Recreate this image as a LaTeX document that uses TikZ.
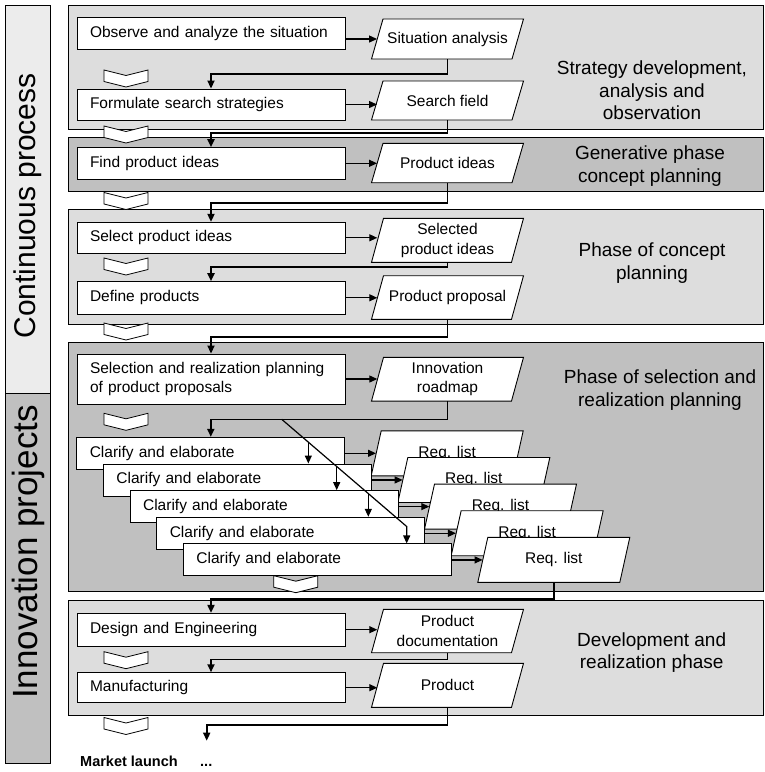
\documentclass[tikz,border=0pt]{standalone}
\usepackage{fontspec}
\setmainfont{Liberation Sans}
\usetikzlibrary{arrows.meta,calc}

\definecolor{panellight}{gray}{0.866}
\definecolor{paneldark}{gray}{0.753}
\definecolor{barlight}{gray}{0.925}

% document symbol: slanted frame plus a named text node
% #1 name, #2 x, #3 y, #4 height, #5 slant, #6 text
\newcommand\docnode[6]{%
  \path[docshape] ({#2-76+#5},{#3-(#4)/2}) -- ({#2+76},{#3-(#4)/2})
    -- ({#2+76-#5},{#3+(#4)/2}) -- ({#2-76},{#3+(#4)/2}) -- cycle;
  \node[doctext, minimum width={152pt-#5pt}, minimum height=#4pt] (#1) at (#2,#3) {#6};}

\begin{document}
\begin{tikzpicture}[x=1pt,y=-1pt,
  panel/.style={draw=black, line width=0.9pt},
  stepbox/.style={rectangle, draw=black, fill=white, line width=0.9pt,
    text width=242pt, inner xsep=13pt, inner ysep=0pt, align=left,
    font=\fontsize{15.5}{18.5}\selectfont},
  docshape/.style={draw=black, fill=white, line width=0.9pt},
  doctext/.style={rectangle, inner sep=0pt, align=center,
    font=\fontsize{15.5}{19.5}\selectfont},
  phase/.style={align=center, inner sep=0pt, font=\fontsize{19}{22.5}\selectfont},
  sidebar/.style={draw=black, line width=0.9pt},
  sidetext/.style={rotate=90, inner sep=0pt},
  tip/.style={-{Triangle[length=8pt,width=7pt]}},
  conn/.style={tip, line width=1.8pt},
  arr/.style={tip, line width=1.2pt},
  chevshape/.style={draw=black, fill=white, line width=0.8pt},
  chev/.pic={\path[chevshape] (-22,0) -- (0,5.5) -- (22,0) -- (22,11.5)
    -- (0,17) -- (-22,11.5) -- cycle;}
]
\useasboundingbox (0,0) rectangle (765,772);

% phase panels
\path[panel, fill=panellight] (68.3,5)     rectangle (763,129.3);
\path[panel, fill=paneldark]  (68.3,137.7) rectangle (763,191.7);
\path[panel, fill=panellight] (68.3,209.3) rectangle (763,324.7);
\path[panel, fill=paneldark]  (68.3,342.7) rectangle (763,591);
\path[panel, fill=panellight] (68.3,600)   rectangle (763,715);

% side bars
\path[sidebar, fill=barlight] (5,5) rectangle (50.5,393);
\path[sidebar, fill=paneldark] (5,393) rectangle (50.5,763);
\node[sidetext, font=\fontsize{30}{32}\selectfont] (cont) at (28,206) {Continuous process};
\node[sidetext, font=\fontsize{35}{37}\selectfont] (inno) at (28,552) {Innovation projects};

% phase labels
\node[phase] (l1) at (652,90.7)  {Strategy development,\\analysis and\\observation};
\node[phase] (l2) at (650,166)   {Generative phase\\concept planning};
\node[phase] (l3) at (652,263.3) {Phase of concept\\planning};
\node[phase] (l4) at (660,390)   {Phase of selection and\\realization planning};
\node[phase] (l5) at (651.7,652.5) {Development and\\realization phase};

% sequence chevrons
\pic at (126,70) {chev};
\pic at (126,126) {chev};
\pic at (126,192.5) {chev};
\pic at (126,258) {chev};
\pic at (126,323) {chev};
\pic at (126,413.3) {chev};
\pic at (295.8,575.7) {chev};
\pic at (126,651.7) {chev};
\pic at (126,717.5) {chev};

% strategy development
\node[stepbox, minimum height=32pt] (obs) at (211,33) {Observe and analyze the situation};
\docnode{sa}{447.5}{39}{40}{11.5}{Situation analysis}
\draw[arr] (obs.east |- sa.center) -- (sa.west);

\node[stepbox, minimum height=31pt] (form) at (211,104.5) {Formulate search strategies};
\docnode{sf}{447.5}{100.5}{39}{11.5}{Search field}
\draw[arr] (form.east) -- (form.east -| sf.west);
\draw[conn] (sa.south) -- ++(0,15) -| (form.north);

% generative phase
\node[stepbox, minimum height=31.3pt] (find) at (211,163.3) {Find product ideas};
\docnode{pi}{447.5}{163}{39.4}{11.5}{Product ideas}
\draw[arr] (find.east) -- (find.east -| pi.west);
\draw[conn] (sf.south) -- ++(0,13) -| (find.north);

% concept planning
\node[stepbox, minimum height=31pt] (sel) at (211,237.8) {Select product ideas};
\docnode{spi}{447.5}{240.3}{44}{12}{Selected\\product ideas}
\draw[arr] (sel.east) -- (sel.east -| spi.west);
\draw[conn] (pi.south) -- ++(0,19.8) -| (sel.north);

\node[stepbox, minimum height=32.3pt] (def) at (211,297.8) {Define products};
\docnode{pp}{447.5}{297.5}{43.6}{12}{Product proposal}
\draw[arr] (def.east) -- (def.east -| pp.west);
\draw[conn] (spi.south) -- ++(0,4.7) -| (def.north);

% selection and realization planning
\node[stepbox, minimum height=50pt] (selre) at (211,379) {Selection and realization planning\\of product proposals};
\docnode{ir}{447.5}{379.2}{43.7}{12}{Innovation\\roadmap}
\draw[arr] (selre.east) -- (selre.east -| ir.west);
\draw[conn] (pp.south) -- ++(0,17.5) -| (selre.north);

% stacked innovation projects
\node[stepbox, minimum height=32pt] (c1) at (210.8,453.3) {Clarify and elaborate};
\docnode{r1}{447.2}{453.3}{45}{10}{Req. list}
\draw[arr] (c1.east) -- (c1.east -| r1.west);
\node[stepbox, minimum height=32pt] (c2) at (237.45,479.95) {Clarify and elaborate};
\docnode{r2}{473.85}{479.95}{45}{10}{Req. list}
\draw[arr] (c2.east) -- (c2.east -| r2.west);
\node[stepbox, minimum height=32pt] (c3) at (264.1,506.6) {Clarify and elaborate};
\docnode{r3}{500.5}{506.6}{45}{10}{Req. list}
\draw[arr] (c3.east) -- (c3.east -| r3.west);
\node[stepbox, minimum height=32pt] (c4) at (290.75,533.25) {Clarify and elaborate};
\docnode{r4}{527.15}{533.25}{45}{10}{Req. list}
\draw[arr] (c4.east) -- (c4.east -| r4.west);
\node[stepbox, minimum height=32pt] (c5) at (317.4,559.9) {Clarify and elaborate};
\docnode{r5}{553.8}{559.9}{45}{10}{Req. list}
\draw[arr] (c5.east) -- (c5.east -| r5.west);

\draw[conn] (ir.south) -- ++(0,18.3) -| (c1.north);
\coordinate (dsplit) at (281.7,419.3);
\coordinate (dend) at (406.7,526.5);
\coordinate (b1) at ($(dsplit)!0.213!(dend)$);
\coordinate (b2) at ($(dsplit)!0.44!(dend)$);
\coordinate (b3) at ($(dsplit)!0.693!(dend)$);
\draw[arr] (dsplit) -- (dend) -- (dend |- c5.north);
\draw[arr] (b1) -- (b1 |- c2.north);
\draw[arr] (b2) -- (b2 |- c3.north);
\draw[arr] (b3) -- (b3 |- c4.north);

% development and realization
\node[stepbox, minimum height=32.7pt] (design) at (211,629.7) {Design and Engineering};
\docnode{pd}{447.5}{631}{43.4}{12}{Product\\documentation}
\draw[arr] (design.east) -- (design.east -| pd.west);
\draw[conn] (r5.south) -- ++(0,16) -| (design.north);

\node[stepbox, minimum height=30pt] (manu) at (211,687.7) {Manufacturing};
\docnode{prod}{447.5}{685.3}{44}{12}{Product}
\draw[arr] (manu.east) -- (manu.east -| prod.west);
\draw[conn] (pd.south) -- ++(0,6.6) -| (manu.north);

% market launch
\node[anchor=base west, inner sep=0pt, font=\bfseries\fontsize{14.5}{16}\selectfont] (ml) at (80,766) {Market launch};
\node[anchor=base west, inner sep=0pt, font=\bfseries\fontsize{14.5}{16}\selectfont] (dots) at (200,766) {...};
\coordinate (mlend) at (206.7,740.7);
\draw[conn] (prod.south) -- ++(0,17.7) -| (mlend);
\end{tikzpicture}
\end{document}
